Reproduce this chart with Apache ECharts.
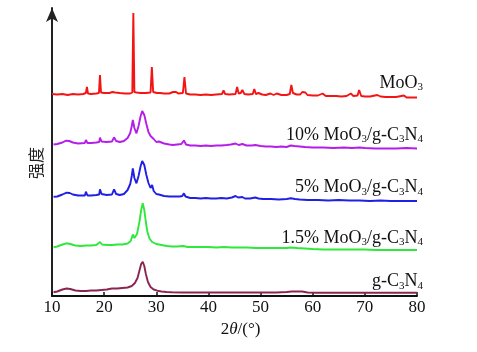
<!DOCTYPE html>
<html>
<head>
    <meta charset="utf-8" />
    <title>XRD</title>
    <script src="https://cdn.jsdelivr.net/npm/echarts@6/dist/echarts.min.js"></script>
    <style>
        body { margin: 0; background: #fff; }
        #main { width: 477px; height: 352px; }
    </style>
</head>
<body>
    <div id="main"></div>
    <script type="text/javascript">
        // 2θ 刻度
        var xTicks = [10, 20, 30, 40, 50, 60, 70, 80];
        var seriesNames = ['MoO3', '10% MoO3/g-C3N4', '5% MoO3/g-C3N4', '1.5% MoO3/g-C3N4', 'g-C3N4'];
        var seriesColors = ['#f51414', '#b41ee8', '#2020e4', '#2ee83a', '#8a2552'];

        // 各曲线 [2θ, 强度(含堆叠偏移)]
        var moo3 = [[10,202],[11,201.5],[12,202],[13,201],[14,202],[15,201.5],[16,202],[16.5,203],[16.7,209],[16.9,202.5],[17.5,202],[18.5,202.5],[19.0,203],[19.2,221],[19.4,203.5],[20,203],[21,203],[21.6,204],[21.8,205.5],[22.1,203.5],[23,203],[24,202.5],[25,202.5],[25.4,203.5],[25.6,283],[25.8,204],[26.2,203.5],[27,203],[28,203],[28.9,203.5],[29.15,229],[29.4,204],[30.1,203],[30.4,204.5],[30.7,203],[31.5,202.5],[32.5,202.5],[33.2,204],[33.5,202.5],[33.8,204],[34.2,202.5],[35.1,203],[35.4,219],[35.7,202.5],[36.5,201.5],[37.5,201.5],[38.5,201],[39.5,201.5],[40.5,201],[41.5,201.5],[42.6,202],[42.9,205.5],[43.2,202],[44,201.5],[45.2,202],[45.5,209],[45.8,202.5],[46.2,203],[46.5,206],[46.9,202],[47.6,201.5],[48.5,202],[48.8,207],[49.1,202],[49.6,203],[49.9,204],[50.3,201.5],[51,201],[51.9,202.5],[52.5,201],[53.1,202.5],[54,201],[55,201],[55.6,202],[55.9,211],[56.2,203],[56.5,204],[56.9,201.5],[57.6,201.5],[58,204],[58.3,202],[58.6,203.5],[59,201],[60,200.5],[61,200.5],[61.9,202.5],[62.5,200],[63.5,200],[64.5,200],[65.5,199.5],[66.5,200],[67.3,202.5],[67.8,200],[68.6,200.5],[68.9,206],[69.3,200],[70,199.5],[71,199.5],[72.4,201],[73,199.5],[74,199],[75,199],[76,199],[77.5,200.5],[78,198.5],[79,198.5],[80,198.5]];

        var mix10 = [[10.3,151.5],[11,152],[12,153.5],[12.7,155.3],[13.3,155],[14,153.5],[15,152.5],[16.3,153],[16.5,156],[16.8,153],[17.5,153],[18.5,153.5],[19.05,154],[19.2,158.3],[19.5,154.5],[20.5,154],[21.5,154.5],[21.9,158.7],[22.3,155],[23,154],[23.8,155],[24.5,158],[25,163],[25.3,170],[25.5,176],[25.8,168],[26.2,162.7],[26.6,170],[27,180],[27.3,185],[27.7,181],[28.1,172],[28.5,164],[28.9,160],[29.2,162],[29.5,157],[30,154],[30.5,154.5],[31.5,152.5],[32.5,151.5],[33.2,151],[34,151.5],[34.8,152],[35.3,155.5],[35.7,151.5],[36.5,150.5],[37.5,150.5],[38.5,150],[39.5,150.5],[40.5,150],[41.5,150.5],[42.5,150.5],[43.5,151],[44.3,151.5],[45.2,152.5],[45.8,151],[46.5,152],[47.3,150.5],[48.3,150.5],[49,151],[50,150],[51,149.5],[52,149.5],[53,149],[54,149.5],[55,149],[55.8,150.5],[56.1,151.5],[56.5,150],[57.5,149.5],[58.5,149],[60,148.5],[62,148.5],[64,148],[66,148.5],[67.5,148],[69,148.5],[70,148],[72,147.5],[74,147.5],[76,147.5],[78,148],[80,147.5]];

        var mix5 = [[10.3,99.3],[11,99.5],[12,101.5],[12.8,103.3],[13.4,103],[14,101.5],[15,100.5],[16.3,100.5],[16.5,104.3],[16.8,100.5],[17.5,100.5],[18.5,101],[19.05,101.5],[19.2,106.7],[19.5,102],[20.5,101],[21.5,101.5],[21.9,106.7],[22.3,102],[23,101],[23.8,102],[24.5,106],[25,112],[25.3,120],[25.5,127.7],[25.8,118],[26.2,112.7],[26.6,120],[27,130],[27.3,135],[27.7,131],[28.1,121],[28.5,113],[28.9,108],[29.2,111],[29.5,105],[30,102],[30.5,101.5],[31.5,100],[32.5,99.5],[33.5,99.5],[34.5,99.5],[35,100],[35.3,102.7],[35.6,99.5],[36.5,98],[37.5,98],[38.5,97.5],[39.5,98],[40.5,97.5],[41.5,97.5],[42.5,98],[43.5,97.5],[44.5,98.5],[45.2,100],[45.7,98.5],[46.5,99],[47,97.5],[48,97.5],[49,98.5],[49.6,97.5],[50.5,97],[52,97],[53.5,96.5],[55,97],[55.8,97.7],[56.1,98.5],[56.6,97],[57.5,96.5],[59,96],[61,96],[63,95.5],[65,96],[67,95.5],[69,95.5],[71,95],[73,95.5],[75,95],[77,95],[80,95]];

        var mix15 = [[10.3,48.7],[11,49.5],[12,51.5],[12.8,52.7],[13.5,52],[14.5,50.5],[15.5,50],[16.5,50.5],[17.5,50.5],[18.5,51],[19.2,54],[19.6,51.5],[20.5,51],[21.5,51],[22.5,51.5],[23.5,51.5],[24.5,52.5],[25.1,55],[25.5,61.5],[25.8,58],[26.3,62],[26.8,75],[27.1,86],[27.4,92.7],[27.7,86],[28,74],[28.3,64],[28.7,57.5],[29.2,54],[30,52],[31,51],[32,50],[33,49.5],[34,49.5],[35.2,50],[36,49],[37,49],[38.5,49],[40,49],[41.5,48.5],[43,49],[44.5,48.5],[46,48.5],[47.5,48.5],[49,48],[50.5,48],[52,48],[53.5,48],[55,48],[55.8,48.5],[57,48],[58.5,47.5],[60,47],[62,46.5],[64,46.5],[66,46.5],[68,46.5],[70,46.5],[72,46],[74,46],[76,46],[78,46],[80,46]];

        var gcn = [[10.3,3.7],[11,4.5],[12,6.5],[12.8,7.5],[13.5,7],[14.5,5.5],[15.5,5],[16.5,5],[17.5,5.5],[18.5,5.5],[19.5,6],[20.5,6.5],[21.5,7.5],[22.5,7.5],[23.5,8],[24.5,8.5],[25.3,10],[25.9,13],[26.4,18],[26.8,26],[27.1,32],[27.4,34.3],[27.7,30],[28,22],[28.4,14],[28.9,9],[29.5,6.5],[30.2,5.3],[31,4.5],[32,4],[33,3.7],[35,3.5],[37,3.5],[39,3.5],[41,3.5],[43,3.5],[45,3.5],[47,3.5],[49,3.5],[51,3.5],[53,3.5],[55,4],[56,4.5],[58,4.5],[59,3.5],[61,3.3],[63,3.3],[66,3.3],[70,3.3],[74,3.3],[78,3.3],[80,3.3]];

        var allData = [moo3, mix10, mix5, mix15, gcn];
        // 标签文字 (rich text, 下标)
        var labelTexts = [
            'MoO{s|3}',
            '10% MoO{s|3}/g-C{s|3}N{s|4}',
            '5% MoO{s|3}/g-C{s|3}N{s|4}',
            '1.5% MoO{s|3}/g-C{s|3}N{s|4}',
            'g-C{s|3}N{s|4}'
        ];
        var labelY = [83, 135, 187.5, 238, 281.5];

        var myChart = echarts.init(document.getElementById('main'));

        var series = [];
        for (var i = 0; i < allData.length; i++) {
            series.push({
                name: seriesNames[i],
                type: 'line',
                data: allData[i],
                showSymbol: false,
                animation: false,
                lineStyle: { color: seriesColors[i], width: 1.9 }
            });
        }

        var graphics = [];
        for (var j = 0; j < labelTexts.length; j++) {
            graphics.push({
                type: 'text',
                x: 423,
                y: labelY[j],
                style: {
                    text: labelTexts[j],
                    fill: '#111',
                    font: '18px "Liberation Serif"',
                    align: 'right',
                    verticalAlign: 'middle',
                    lineHeight: 20,
                    rich: {
                        s: { fontSize: 11, fontFamily: 'Liberation Serif', fill: '#111', verticalAlign: 'bottom', lineHeight: 13 }
                    }
                }
            });
        }
        graphics.push({
            type: 'text',
            x: 36,
            y: 163,
            rotation: Math.PI / 2,
            style: {
                text: '强度',
                fill: '#222',
                font: '16px "Noto Sans CJK SC"',
                align: 'center',
                verticalAlign: 'middle'
            }
        });

        var option = {
            backgroundColor: '#fff',
            grid: { left: 52, right: 60, top: 8, bottom: 56 },
            xAxis: {
                type: 'value',
                min: 10,
                max: 80,
                interval: 10,
                name: '2{i|θ}/(°)',
                nameLocation: 'middle',
                nameGap: 23,
                nameTextStyle: {
                    fontFamily: 'Liberation Serif',
                    fontSize: 17,
                    color: '#111',
                    padding: [0, 0, 0, 12],
                    rich: { i: { fontStyle: 'italic', fontFamily: 'Liberation Serif', fontSize: 17, color: '#111' } }
                },
                axisLine: { onZero: false, lineStyle: { color: '#111', width: 2 } },
                axisTick: { inside: true, length: 4, lineStyle: { color: '#111', width: 1.5 } },
                axisLabel: {
                    margin: 3,
                    fontFamily: 'Liberation Serif',
                    fontSize: 17,
                    color: '#111',
                    formatter: function (v) { return xTicks.indexOf(v) >= 0 ? String(v) : ''; }
                },
                splitLine: { show: false }
            },
            yAxis: {
                type: 'value',
                min: 0,
                max: 288,
                axisLine: {
                    show: true,
                    symbol: ['none', 'arrow'],
                    symbolSize: [9, 14],
                    lineStyle: { color: '#222', width: 2 }
                },
                axisTick: { show: false },
                axisLabel: { show: false },
                splitLine: { show: false }
            },
            graphic: graphics,
            series: series
        };

        myChart.setOption(option);
    </script>
</body>
</html>
